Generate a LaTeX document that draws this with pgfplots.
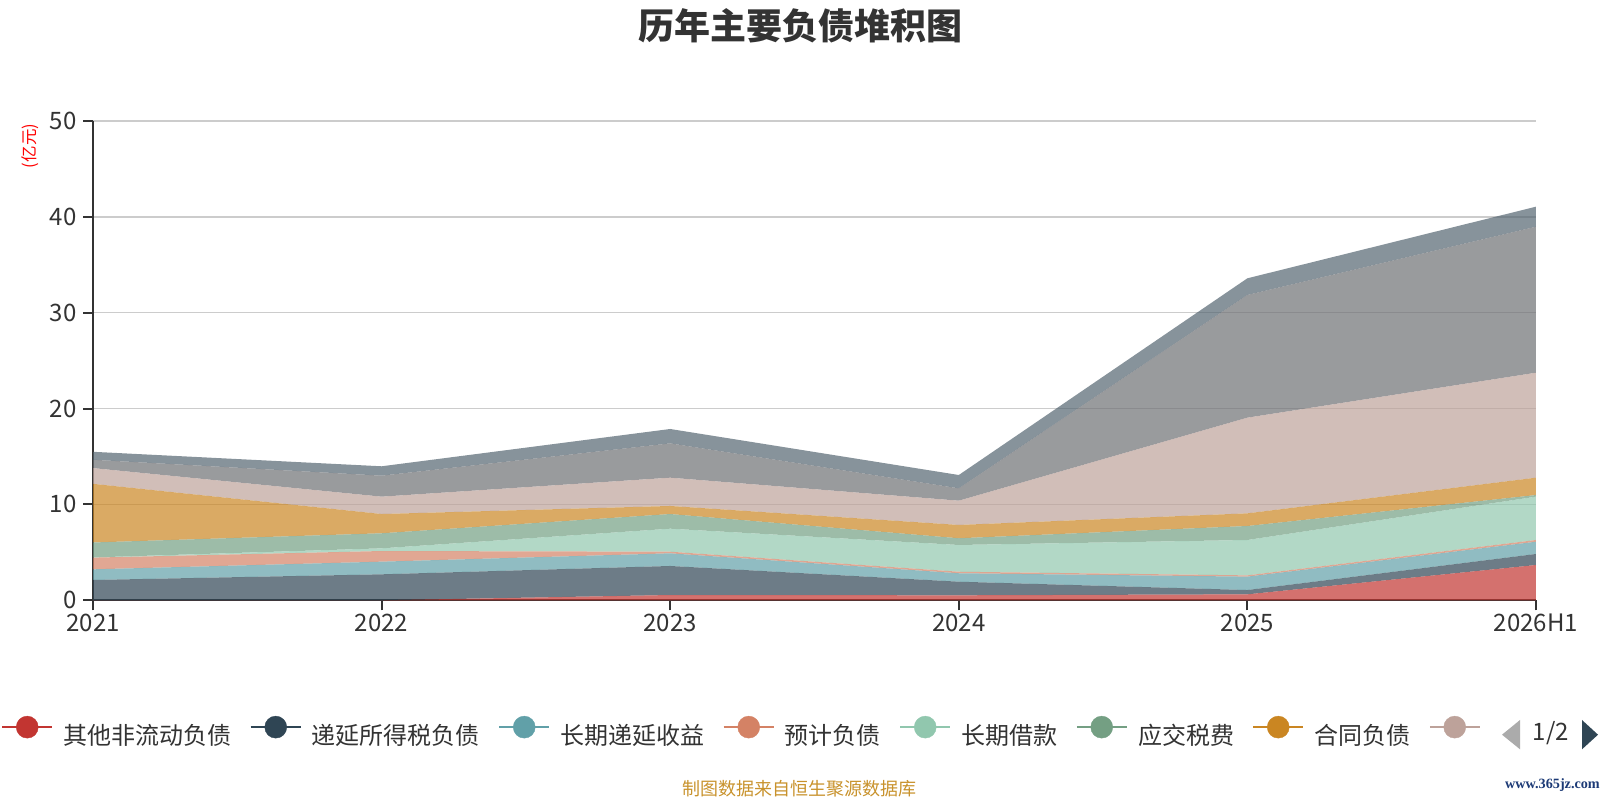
\documentclass[border=0pt]{standalone}
\usepackage{fontspec}
\setmainfont{Noto Sans CJK SC}
\newfontfamily\wmfont{Liberation Serif}
\usepackage{pgfplots}
\pgfplotsset{compat=1.18}
\usepackage{pgfplotstable}
\definecolor{c1}{HTML}{C23531}
\definecolor{c2}{HTML}{2F4554}
\definecolor{c3}{HTML}{61A0A8}
\definecolor{c4}{HTML}{D48265}
\definecolor{c5}{HTML}{91C7AE}
\definecolor{c6}{HTML}{749F83}
\definecolor{c7}{HTML}{CA8622}
\definecolor{c8}{HTML}{BDA29A}
\definecolor{c9}{HTML}{6E7074}
\definecolor{c10}{HTML}{546570}
\definecolor{txt}{HTML}{333333}
\definecolor{gridc}{HTML}{CCCCCC}
\definecolor{srcc}{RGB}{200,146,44}
\definecolor{wmc}{RGB}{28,58,118}
\newcommand\fs[1]{\fontsize{#1bp}{#1bp}\selectfont}
\newcommand\legimg[1]{\addlegendimage{legend image code/.code={\draw[#1,line width=2.5bp] (0bp,8bp)--(50bp,8bp); \fill[#1] (25bp,8bp) circle[radius=11bp];}}}
\pgfplotstableread{
x r nv tl sm lg gn og pk gy sl
0 0.00 2.12 1.11 1.22 0.02 1.56 6.12 1.64 0.87 0.83
1 0.00 2.71 1.32 1.11 0.28 1.57 2.01 1.81 2.19 0.98
2 0.55 3.03 1.32 0.17 2.40 1.53 0.84 2.95 3.58 1.50
3 0.52 1.42 0.88 0.16 2.79 0.70 1.39 2.53 1.29 1.39
4 0.62 0.45 1.40 0.13 3.69 1.46 1.32 9.98 12.80 1.74
5 3.68 1.15 1.28 0.18 4.52 0.17 1.81 10.95 15.23 2.09
}\data
\begin{document}
\begin{tikzpicture}[x=1bp,y=1bp]
\useasboundingbox (0,0) rectangle (1600,800);
\node[anchor=base, font=\bfseries\fs{36}, text=txt, inner sep=0] at (800,760.8) {历年主要负债堆积图};
\node[rotate=90, text=red, font=\fs{16.5}, inner sep=0] at (30,654) {(亿元)};
\begin{axis}[at={(93bp,199.7bp)}, anchor=south west, scale only axis,
  width=1443bp, height=479.3bp,
  xmin=0, xmax=5, ymin=0, ymax=50,
  stack plots=y,
  axis lines*=left, axis line style={txt, line width=2bp},
  xtick={0,1,2,3,4,5}, xticklabels={2021,2022,2023,2024,2025,2026H1},
  ytick={0,10,20,30,40,50},
  tick align=outside, major tick length=10bp, tick style={txt, line width=2bp},
  ymajorgrids, grid style={gridc, line width=1.5bp},
  ticklabel style={font=\fs{24}, text=txt},
  yticklabel style={xshift=-3bp},
  /pgf/number format/assume math mode=true,
  legend columns=-1,
  legend style={at={(-0.06376,-0.2727)}, anchor=west, draw=none, fill=none,
    inner sep=0pt, outer sep=0pt, font=\fs{24}, text=txt,
    nodes={inner sep=0pt, outer sep=0pt},
    /tikz/every odd column/.append style={column sep=10bp},
    /tikz/every even column/.append style={column sep=18bp}},
]
\legimg{c1}\addlegendentry{其他非流动负债}
\legimg{c2}\addlegendentry{递延所得税负债}
\legimg{c3}\addlegendentry{长期递延收益}
\legimg{c4}\addlegendentry{预计负债}
\legimg{c5}\addlegendentry{长期借款}
\legimg{c6}\addlegendentry{应交税费}
\legimg{c7}\addlegendentry{合同负债}
\legimg{c8}\addlegendentry{}
\addplot[forget plot, draw=none, fill=c1, fill opacity=0.7] table[x=x,y=r]{\data} \closedcycle;
\addplot[forget plot, draw=none, fill=c2, fill opacity=0.7] table[x=x,y=nv]{\data} \closedcycle;
\addplot[forget plot, draw=none, fill=c3, fill opacity=0.7] table[x=x,y=tl]{\data} \closedcycle;
\addplot[forget plot, draw=none, fill=c4, fill opacity=0.7] table[x=x,y=sm]{\data} \closedcycle;
\addplot[forget plot, draw=none, fill=c5, fill opacity=0.7] table[x=x,y=lg]{\data} \closedcycle;
\addplot[forget plot, draw=none, fill=c6, fill opacity=0.7] table[x=x,y=gn]{\data} \closedcycle;
\addplot[forget plot, draw=none, fill=c7, fill opacity=0.7] table[x=x,y=og]{\data} \closedcycle;
\addplot[forget plot, draw=none, fill=c8, fill opacity=0.7] table[x=x,y=pk]{\data} \closedcycle;
\addplot[forget plot, draw=none, fill=c9, fill opacity=0.7] table[x=x,y=gy]{\data} \closedcycle;
\addplot[forget plot, draw=none, fill=c10, fill opacity=0.7] table[x=x,y=sl]{\data} \closedcycle;
\end{axis}
\fill[black!33] (1502,65.3) -- (1520,80) -- (1520,50.7) -- cycle;
\node[font=\fs{24}, text=txt, inner sep=0] at (1551,67) {1/2};
\fill[c2] (1582,80) -- (1582,50.7) -- (1598,65.3) -- cycle;
\node[text=srcc, font=\fs{18}, inner sep=0] at (799,11) {制图数据来自恒生聚源数据库};
\node[anchor=east, font=\wmfont\bfseries\fs{14.2}, text=wmc, inner sep=0] at (1600,15) {www.365jz.com};
\end{tikzpicture}
\end{document}
